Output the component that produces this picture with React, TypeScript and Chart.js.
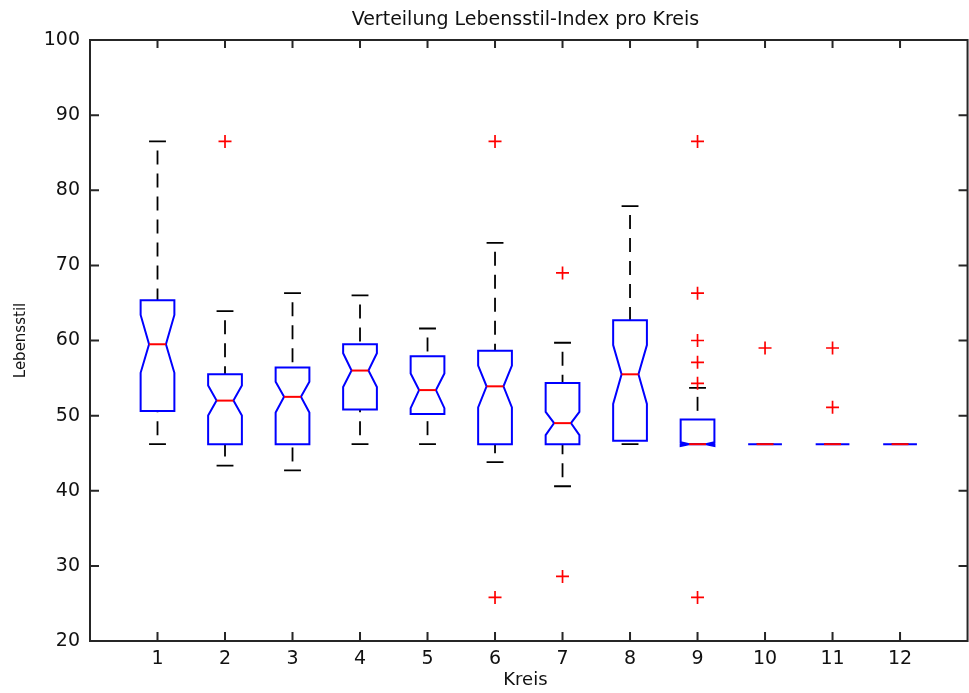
import React, { useEffect, useRef } from 'react';
import { Chart, registerables } from 'chart.js';

Chart.register(...registerables);

const chartTitle = 'Verteilung Lebensstil-Index pro Kreis';
const xLabel = 'Kreis';
const yLabel = 'Lebensstil';

const categories = [1, 2, 3, 4, 5, 6, 7, 8, 9, 10, 11, 12];
const yTicks = [20, 30, 40, 50, 60, 70, 80, 90, 100];

const upperWhisker = [86.5, 63.9, 66.3, 66.0, 61.6, 73.0, 59.7, 77.9, 53.7, 46.2, 46.2, 46.2];
const q3 = [65.35, 55.5, 56.4, 59.5, 57.9, 58.65, 54.35, 62.7, 49.5, 46.2, 46.2, 46.2];
const notchHigh = [63.4, 54.0, 54.5, 58.3, 55.6, 56.65, 50.5, 59.4, 46.45, 46.2, 46.2, 46.2];
const median = [59.5, 52.0, 52.5, 56.0, 53.4, 53.9, 49.0, 55.5, 46.2, 46.2, 46.2, 46.2];
const notchLow = [55.7, 50.0, 50.4, 53.8, 51.0, 51.1, 47.4, 51.55, 45.95, 46.2, 46.2, 46.2];
const q1 = [50.6, 46.2, 46.2, 50.8, 50.2, 46.2, 46.2, 46.67, 46.2, 46.2, 46.2, 46.2];
const lowerWhisker = [46.2, 43.35, 42.7, 46.2, 46.2, 43.8, 40.6, 46.2, 46.2, 46.2, 46.2, 46.2];

const outlierCategory = [2, 6, 6, 7, 7, 9, 9, 9, 9, 9, 9, 10, 11, 11];
const outlierValue = [86.5, 86.5, 25.8, 69.0, 28.6, 86.5, 66.3, 60.0, 57.1, 54.3, 25.8, 59.0, 59.0, 51.1];

const FONT = 'DejaVu Sans';
const TEXT = '#111111';

const boxPlugin = {
  id: 'notchedBoxes',
  beforeDatasetsDraw(chart: any) {
    const { ctx, scales } = chart;
    const x = scales.x;
    const y = scales.y;
    const hw = 0.25;
    const nw = 0.125;
    const cw = 0.125;
    const px = (v: number) => x.getPixelForValue(v);
    const py = (v: number) => y.getPixelForValue(v);
    ctx.save();
    categories.forEach((c, i) => {
      // whiskers (dashed, drawn from cap toward the box)
      ctx.strokeStyle = '#000000';
      ctx.lineWidth = 1.8;
      ctx.setLineDash([14, 9]);
      ctx.lineDashOffset = 14;
      ctx.beginPath();
      ctx.moveTo(px(c), py(upperWhisker[i]));
      ctx.lineTo(px(c), py(q3[i]));
      ctx.stroke();
      ctx.beginPath();
      ctx.moveTo(px(c), py(lowerWhisker[i]));
      ctx.lineTo(px(c), py(q1[i]));
      ctx.stroke();
      // caps
      ctx.setLineDash([]);
      ctx.lineDashOffset = 0;
      ctx.beginPath();
      ctx.moveTo(px(c - cw), py(upperWhisker[i]));
      ctx.lineTo(px(c + cw), py(upperWhisker[i]));
      ctx.moveTo(px(c - cw), py(lowerWhisker[i]));
      ctx.lineTo(px(c + cw), py(lowerWhisker[i]));
      ctx.stroke();
      // notched box
      ctx.strokeStyle = '#0000ff';
      ctx.lineWidth = 2;
      ctx.lineJoin = 'miter';
      ctx.beginPath();
      ctx.moveTo(px(c - hw), py(q3[i]));
      ctx.lineTo(px(c - hw), py(notchHigh[i]));
      ctx.lineTo(px(c - nw), py(median[i]));
      ctx.lineTo(px(c - hw), py(notchLow[i]));
      ctx.lineTo(px(c - hw), py(q1[i]));
      ctx.lineTo(px(c + hw), py(q1[i]));
      ctx.lineTo(px(c + hw), py(notchLow[i]));
      ctx.lineTo(px(c + nw), py(median[i]));
      ctx.lineTo(px(c + hw), py(notchHigh[i]));
      ctx.lineTo(px(c + hw), py(q3[i]));
      ctx.closePath();
      ctx.stroke();
      // median
      ctx.strokeStyle = '#ff0000';
      ctx.beginPath();
      ctx.moveTo(px(c - nw), py(median[i]));
      ctx.lineTo(px(c + nw), py(median[i]));
      ctx.stroke();
    });
    ctx.restore();
  },
};

const framePlugin = {
  id: 'matlabFrame',
  afterDraw(chart: any) {
    const { ctx, chartArea, scales } = chart;
    const x = scales.x;
    const y = scales.y;
    const left = chartArea.left;
    const top = chartArea.top;
    const bottom = chartArea.bottom;
    const right = x.getPixelForValue(13);
    ctx.save();
    ctx.strokeStyle = '#262626';
    ctx.lineWidth = 2;
    ctx.setLineDash([]);
    ctx.beginPath();
    ctx.moveTo(left, top);
    ctx.lineTo(right, top);
    ctx.lineTo(right, bottom);
    ctx.lineTo(left, bottom);
    ctx.closePath();
    categories.forEach((c) => {
      const p = x.getPixelForValue(c);
      ctx.moveTo(p, bottom);
      ctx.lineTo(p, bottom - 9);
      ctx.moveTo(p, top);
      ctx.lineTo(p, top + 8);
    });
    yTicks.forEach((v) => {
      const p = y.getPixelForValue(v);
      ctx.moveTo(left, p);
      ctx.lineTo(left + 9, p);
      ctx.moveTo(right, p);
      ctx.lineTo(right - 9, p);
    });
    ctx.stroke();
    ctx.restore();
  },
};

export default function App() {
  const ref = useRef<HTMLCanvasElement | null>(null);

  useEffect(() => {
    document.body.style.margin = '0';
    const canvas = ref.current;
    if (!canvas) return;
    const chart = new Chart(canvas, {
      type: 'scatter',
      data: {
        datasets: [
          {
            data: outlierCategory.map((c, i) => ({ x: c, y: outlierValue[i] })),
            pointStyle: 'cross',
            radius: 6.5,
            borderColor: '#ff0000',
            backgroundColor: '#ff0000',
            borderWidth: 1.7,
          },
        ],
      },
      options: {
        responsive: false,
        animation: false,
        devicePixelRatio: 1,
        layout: { padding: 0 },
        plugins: {
          legend: { display: false },
          tooltip: { enabled: false },
          title: {
            display: true,
            text: chartTitle,
            color: TEXT,
            fullSize: false,
            font: { family: FONT, size: 19, weight: 'normal', lineHeight: 22 / 19 },
            padding: { top: 9, bottom: 9 },
          },
        },
        scales: {
          x: {
            type: 'linear',
            min: 0,
            max: 12.9,
            afterBuildTicks: (s: any) => {
              s.ticks = categories.map((v) => ({ value: v }));
            },
            afterFit: (s: any) => {
              s.height = 52;
            },
            grid: { display: false, drawTicks: false },
            border: { display: false },
            ticks: {
              color: TEXT,
              font: { family: FONT, size: 19 },
              padding: 7,
              autoSkip: false,
              maxRotation: 0,
            },
            title: {
              display: true,
              text: xLabel,
              color: TEXT,
              font: { family: FONT, size: 18 },
              padding: { top: 0, bottom: 2 },
            },
          },
          y: {
            type: 'linear',
            min: 20,
            max: 100,
            afterBuildTicks: (s: any) => {
              s.ticks = yTicks.map((v) => ({ value: v }));
            },
            afterFit: (s: any) => {
              s.width = 90;
            },
            grid: { display: false, drawTicks: false },
            border: { display: false },
            ticks: {
              color: TEXT,
              font: { family: FONT, size: 19 },
              padding: 10,
            },
            title: {
              display: true,
              text: yLabel,
              color: TEXT,
              font: { family: FONT, size: 15 },
              padding: { top: 12, bottom: 0 },
            },
          },
        },
      },
      plugins: [boxPlugin, framePlugin],
    } as any);
    return () => chart.destroy();
  }, []);

  return <canvas ref={ref} width={969} height={693} style={{ display: 'block' }} />;
}
